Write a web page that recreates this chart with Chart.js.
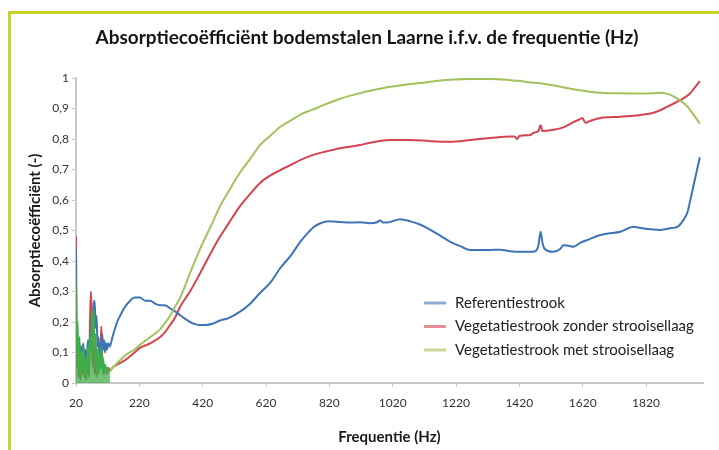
<!DOCTYPE html>
<html>
<head>
<meta charset="utf-8">
<script src="https://cdn.jsdelivr.net/npm/chart.js@4.4.0/dist/chart.umd.min.js"></script>
<style>
html,body{margin:0;padding:0;background:#fff;}
canvas{display:block;}
</style>
</head>
<body>
<canvas id="c" width="719" height="450"></canvas>
<script>
// ruis onder ~130 Hz, gedeelde frequenties
const noiseHz = [20,22,25,28,31,34,37,40,43,46,49,52,55,58,61,64,67,70,73,76,79,82,85,88,91,94,97,100,103,106,109,112,115,118,122,127];
const refNoise = [0.44,0.10,0.14,0.08,0.13,0.06,0.12,0.09,0.13,0.07,
  0.11,0.05,0.10,0.14,0.08,0.16,0.12,0.22,0.15,0.26,
  0.27,0.18,0.22,0.12,0.15,0.09,0.13,0.10,0.16,0.11,
  0.14,0.10,0.13,0.11,0.13,0.12];
const zonderNoise = [0.48,0.05,0.12,0.02,0.08,0.01,0.06,0.03,0.09,0.02,
  0.05,0.01,0.04,0.10,0.02,0.18,0.30,0.22,0.05,0.12,
  0.03,0.08,0.02,0.10,0.04,0.06,0.10,0.185,0.08,0.03,
  0.06,0.04,0.05,0.03,0.05,0.04];
const metNoise = [0.33,0.10,0.20,0.04,0.15,0.02,0.10,0.05,0.12,0.03,
  0.08,0.02,0.07,0.12,0.04,0.15,0.10,0.20,0.24,0.22,
  0.08,0.16,0.04,0.11,0.03,0.09,0.05,0.12,0.04,0.08,
  0.03,0.06,0.04,0.05,0.04,0.04];

// Referentiestrook
const refHz = [135,150,159,175,191,205,222,238,254,270,
  285,300,317,333,349,365,380,396,412,430,
  453,475,500,538,570,601,633,665,700,728,
  750,769,790,820,854,885,917,949,970,980,
  990,1012,1044,1076,1110,1139,1170,1202,1235,1265,
  1300,1328,1360,1392,1423,1455,1470,1480,1487,1493,
  1500,1527,1550,1559,1575,1591,1613,1635,1676,1700,
  1739,1781,1803,1844,1866,1900,1919,1938,1951,1960,
  1975,1990];
const refAbs = [0.15,0.20,0.22,0.25,0.27,0.28,0.28,0.27,0.27,0.26,
  0.255,0.255,0.245,0.235,0.222,0.21,0.20,0.193,0.19,0.19,
  0.195,0.205,0.212,0.234,0.26,0.295,0.328,0.377,0.42,0.463,
  0.49,0.51,0.523,0.53,0.528,0.526,0.527,0.524,0.527,0.533,
  0.526,0.528,0.537,0.53,0.518,0.502,0.483,0.463,0.448,0.436,
  0.436,0.436,0.437,0.432,0.43,0.43,0.432,0.45,0.496,0.46,
  0.44,0.43,0.44,0.452,0.45,0.447,0.46,0.469,0.485,0.49,
  0.496,0.512,0.508,0.503,0.502,0.508,0.512,0.534,0.56,0.60,
  0.67,0.74];

// Vegetatiestrook zonder strooisellaag
const zonderHz = [135,150,175,205,222,254,285,300,317,333,
  349,380,412,453,475,500,538,570,601,633,
  665,700,728,769,801,854,917,949,1012,1076,
  1139,1202,1265,1328,1392,1405,1414,1420,1455,1464,
  1480,1487,1493,1527,1559,1591,1613,1619,1629,1645,
  1676,1739,1803,1844,1888,1929,1960,1975,1990];
const zonderAbs = [0.05,0.06,0.075,0.10,0.115,0.13,0.15,0.165,0.19,0.215,
  0.25,0.30,0.36,0.44,0.48,0.52,0.58,0.62,0.656,0.68,
  0.698,0.716,0.731,0.748,0.757,0.77,0.78,0.788,0.797,0.797,
  0.793,0.791,0.797,0.803,0.808,0.808,0.80,0.81,0.813,0.82,
  0.826,0.845,0.826,0.83,0.838,0.855,0.866,0.869,0.853,0.86,
  0.869,0.873,0.879,0.886,0.906,0.928,0.95,0.97,0.99];

// Vegetatiestrook met strooisellaag
const metHz = [135,150,175,205,222,254,285,300,317,333,
  349,380,412,453,475,500,538,570,601,633,
  665,700,728,769,801,854,917,949,1012,1076,
  1139,1202,1265,1328,1392,1423,1455,1487,1520,1550,
  1591,1640,1676,1739,1803,1844,1866,1888,1907,1930,
  1951,1970,1990];
const metAbs = [0.05,0.065,0.09,0.11,0.125,0.15,0.175,0.195,0.22,0.25,
  0.28,0.36,0.44,0.53,0.58,0.625,0.69,0.735,0.78,0.81,
  0.84,0.862,0.88,0.897,0.911,0.932,0.95,0.958,0.971,0.98,
  0.988,0.994,0.997,0.997,0.993,0.99,0.985,0.983,0.977,0.971,
  0.963,0.955,0.952,0.95,0.949,0.95,0.952,0.948,0.94,0.925,
  0.906,0.88,0.85];

const xTicks = [20,220,420,620,820,1020,1220,1420,1620,1820];
const yTickLabels = ["0","0,1","0,2","0,3","0,4","0,5","0,6","0,7","0,8","0,9","1"];
const seriesNames = ["Referentiestrook","Vegetatiestrook zonder strooisellaag","Vegetatiestrook met strooisellaag"];
const chartTitle = "Absorptiecoëfficiënt bodemstalen Laarne i.f.v. de frequentie (Hz)";

const FONT = "Lato, 'Noto Sans', sans-serif";
const NOISE_END = 127;
const toPts = (hz, vals) => hz.map((x, i) => ({ x, y: vals[i] }));

const frame = {
  id: "frame",
  beforeDraw(chart) {
    const c = chart.ctx;
    c.save();
    c.fillStyle = "#fff";
    c.fillRect(0, 0, chart.width, chart.height);
    c.fillStyle = "#c6d52c";
    c.fillRect(8, 11, chart.width - 8, 3);
    c.fillRect(8, 11, 3, chart.height - 11);
    c.fillStyle = "#151515";
    c.font = "bold 19px " + FONT;
    c.textAlign = "center";
    c.textBaseline = "middle";
    c.fillText(chartTitle, 367, 38);
    c.restore();
  }
};

const legendBox = {
  id: "legendBox",
  afterDatasetsDraw(chart) {
    const c = chart.ctx;
    c.save();
    c.font = "15px " + FONT;
    c.textBaseline = "middle";
    chart.data.datasets.forEach((ds, i) => {
      const y = 303 + i * 23.5;
      c.globalAlpha = 0.6;
      c.strokeStyle = ds.borderColor;
      c.lineWidth = 3;
      c.beginPath(); c.moveTo(424, y); c.lineTo(446, y); c.stroke();
      c.globalAlpha = 1;
      c.fillStyle = "#222";
      c.fillText(ds.label, 455, y);
    });
    c.restore();
  }
};

const baseLine = color => ({
  borderColor: color,
  borderWidth: 2,
  pointRadius: 0,
  cubicInterpolationMode: "monotone",
  fill: false
});

// groene ruis is in het origineel een gevulde vlek
const metStyle = {
  ...baseLine("#a3c25c"),
  fill: "origin",
  backgroundColor: "rgba(0,0,0,0)",
  segment: {
    borderColor: ctx => ctx.p0.parsed.x < NOISE_END ? "#3fae4a" : undefined,
    backgroundColor: ctx => ctx.p1.parsed.x <= NOISE_END ? "rgba(63,174,74,0.75)" : "rgba(0,0,0,0)"
  }
};

new Chart(document.getElementById("c").getContext("2d"), {
  type: "line",
  data: {
    datasets: [
      { label: seriesNames[0], order: 1, data: toPts(noiseHz.concat(refHz), refNoise.concat(refAbs)), ...baseLine("#3d74b6") },
      { label: seriesNames[1], order: 2, data: toPts(noiseHz.concat(zonderHz), zonderNoise.concat(zonderAbs)), ...baseLine("#d4434f") },
      { label: seriesNames[2], order: 0, data: toPts(noiseHz.concat(metHz), metNoise.concat(metAbs)), ...metStyle }
    ]
  },
  options: {
    responsive: false,
    animation: false,
    devicePixelRatio: 1,
    layout: { padding: { left: 14, right: 16, top: 78, bottom: 0 } },
    plugins: {
      legend: { display: false },
      tooltip: { enabled: false },
      title: { display: false }
    },
    scales: {
      x: {
        type: "linear",
        min: 20, max: 2000,
        afterBuildTicks: s => { s.ticks = xTicks.map(v => ({ value: v })); },
        afterFit: s => { s.height = 67; },
        border: { color: "#c9c9c9", width: 2 },
        grid: { drawOnChartArea: false, tickLength: 4, color: "#c9c9c9" },
        ticks: { color: "#333", font: { family: FONT, size: 12 }, padding: 9, maxRotation: 0, autoSkip: false,
          callback: v => String(v) },
        title: { display: true, text: "Frequentie (Hz)", color: "#1a1a1a",
          font: { family: FONT, size: 15, weight: "bold" }, padding: { top: 0, bottom: 4 } }
      },
      y: {
        min: 0, max: 1,
        ticks: { stepSize: 0.1, color: "#333", font: { family: FONT, size: 12 }, padding: 3,
          callback: (v, i) => yTickLabels[i] },
        afterFit: s => { s.width = 62; },
        border: { color: "#c9c9c9", width: 2 },
        grid: { drawOnChartArea: false, tickLength: 4, color: "#c9c9c9" },
        title: { display: true, text: "Absorptiecoëfficiënt (-)", color: "#1a1a1a",
          font: { family: FONT, size: 15, weight: "bold" }, padding: { top: 12, bottom: 0 } }
      }
    }
  },
  plugins: [frame, legendBox]
});
</script>
</body>
</html>
